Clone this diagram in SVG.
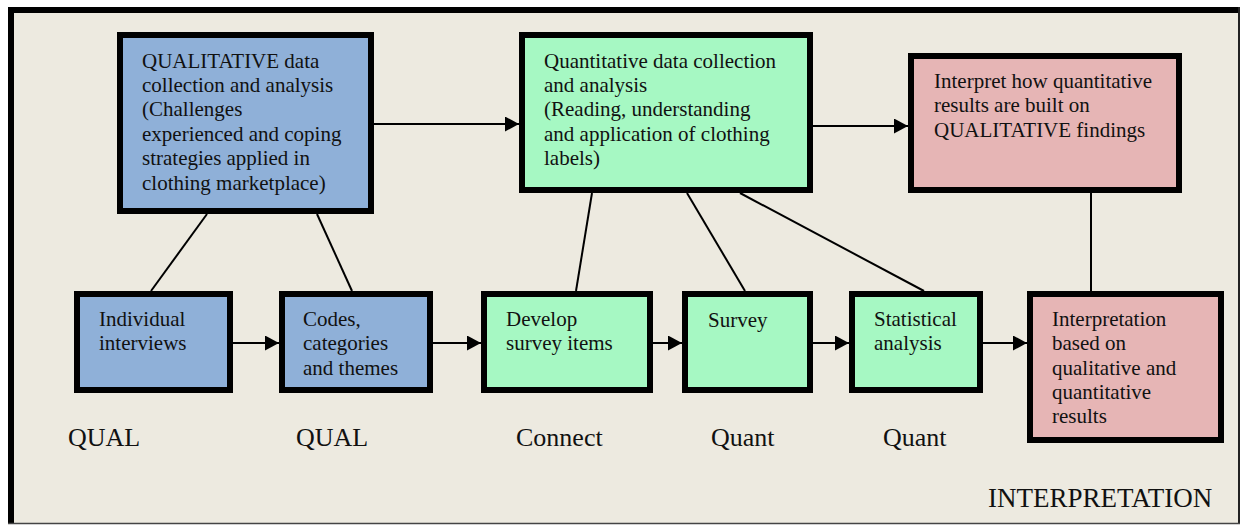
<svg xmlns="http://www.w3.org/2000/svg" width="1243" height="525" viewBox="0 0 1243 525">
<defs>
<style>
.box{stroke:#000;stroke-width:6}
.blue{fill:#8FB0D8}
.green{fill:#A6F8C3}
.pink{fill:#E6B5B5}
.t{font-family:"Liberation Serif","Times New Roman",serif;font-size:21px;fill:#111}
.lbl{font-family:"Liberation Serif","Times New Roman",serif;font-size:26px;fill:#111}
.c{stroke:#000;stroke-width:2;fill:none}
</style>
<marker id="ah" markerUnits="userSpaceOnUse" markerWidth="15" markerHeight="16" refX="14" refY="7.5" orient="auto">
<path d="M0,0 L14,7.5 L0,15 Z" fill="#000"/>
</marker>
</defs>
<rect x="0" y="0" width="1243" height="525" fill="#fff"/>
<rect x="8" y="7" width="1231" height="516" fill="#EDEAE0"/>
<line x1="11" y1="7" x2="11" y2="524" stroke="#000" stroke-width="6"/>
<line x1="8" y1="10" x2="1240" y2="10" stroke="#000" stroke-width="6"/>
<line x1="1239" y1="7" x2="1239" y2="524" stroke="#222" stroke-width="2"/>
<line x1="8" y1="523.5" x2="1240" y2="523.5" stroke="#444" stroke-width="1.5"/>

<g id="connectors">
<path class="c" d="M374,124 H519" marker-end="url(#ah)"/>
<path class="c" d="M813,126 H908" marker-end="url(#ah)"/>
<path class="c" d="M207,214 L151,291"/>
<path class="c" d="M317,214 L352,291"/>
<path class="c" d="M592,193 L576,291"/>
<path class="c" d="M687,193 L745,291"/>
<path class="c" d="M740,193 L924,291"/>
<path class="c" d="M1091,193 V291"/>
<path class="c" d="M233,343 H279" marker-end="url(#ah)"/>
<path class="c" d="M433,343 H481" marker-end="url(#ah)"/>
<path class="c" d="M653,343 H682" marker-end="url(#ah)"/>
<path class="c" d="M813,343 H849" marker-end="url(#ah)"/>
<path class="c" d="M983,343 H1027" marker-end="url(#ah)"/>
</g>

<g id="qual-main">
<rect class="box blue" x="120" y="35" width="251" height="176"/>
<text class="t" x="142" y="68">QUALITATIVE data</text>
<text class="t" x="142" y="92">collection and analysis</text>
<text class="t" x="142" y="116">(Challenges</text>
<text class="t" x="142" y="141">experienced and coping</text>
<text class="t" x="142" y="165">strategies applied in</text>
<text class="t" x="142" y="190">clothing marketplace)</text>
</g>

<g id="quant-main">
<rect class="box green" x="522" y="35" width="288" height="155"/>
<text class="t" x="544" y="68">Quantitative data collection</text>
<text class="t" x="544" y="92">and analysis</text>
<text class="t" x="544" y="116">(Reading, understanding</text>
<text class="t" x="544" y="141">and application of clothing</text>
<text class="t" x="544" y="165">labels)</text>
</g>

<g id="interpret-main">
<rect class="box pink" x="911" y="56" width="268" height="134"/>
<text class="t" x="934" y="88">Interpret how quantitative</text>
<text class="t" x="934" y="112">results are built on</text>
<text class="t" x="934" y="137">QUALITATIVE findings</text>
</g>

<g id="interviews">
<rect class="box blue" x="77" y="294" width="153" height="96"/>
<text class="t" x="99" y="326">Individual</text>
<text class="t" x="99" y="350">interviews</text>
</g>

<g id="codes">
<rect class="box blue" x="282" y="294" width="148" height="96"/>
<text class="t" x="303" y="326">Codes,</text>
<text class="t" x="303" y="350">categories</text>
<text class="t" x="303" y="375">and themes</text>
</g>

<g id="develop">
<rect class="box green" x="484" y="294" width="166" height="96"/>
<text class="t" x="506" y="326">Develop</text>
<text class="t" x="506" y="350">survey items</text>
</g>

<g id="survey">
<rect class="box green" x="685" y="294" width="125" height="96"/>
<text class="t" x="708" y="327">Survey</text>
</g>

<g id="statistical">
<rect class="box green" x="852" y="294" width="128" height="96"/>
<text class="t" x="874" y="326">Statistical</text>
<text class="t" x="874" y="350">analysis</text>
</g>

<g id="interpretation">
<rect class="box pink" x="1030" y="294" width="191" height="146"/>
<text class="t" x="1052" y="326">Interpretation</text>
<text class="t" x="1052" y="350">based on</text>
<text class="t" x="1052" y="375">qualitative and</text>
<text class="t" x="1052" y="399">quantitative</text>
<text class="t" x="1052" y="423">results</text>
</g>

<g id="labels">
<text class="lbl" x="68" y="446">QUAL</text>
<text class="lbl" x="296" y="446">QUAL</text>
<text class="lbl" x="516" y="446">Connect</text>
<text class="lbl" x="711" y="446">Quant</text>
<text class="lbl" x="883" y="446">Quant</text>
<text class="lbl" x="988" y="507" style="font-size:27px">INTERPRETATION</text>
</g>
</svg>
